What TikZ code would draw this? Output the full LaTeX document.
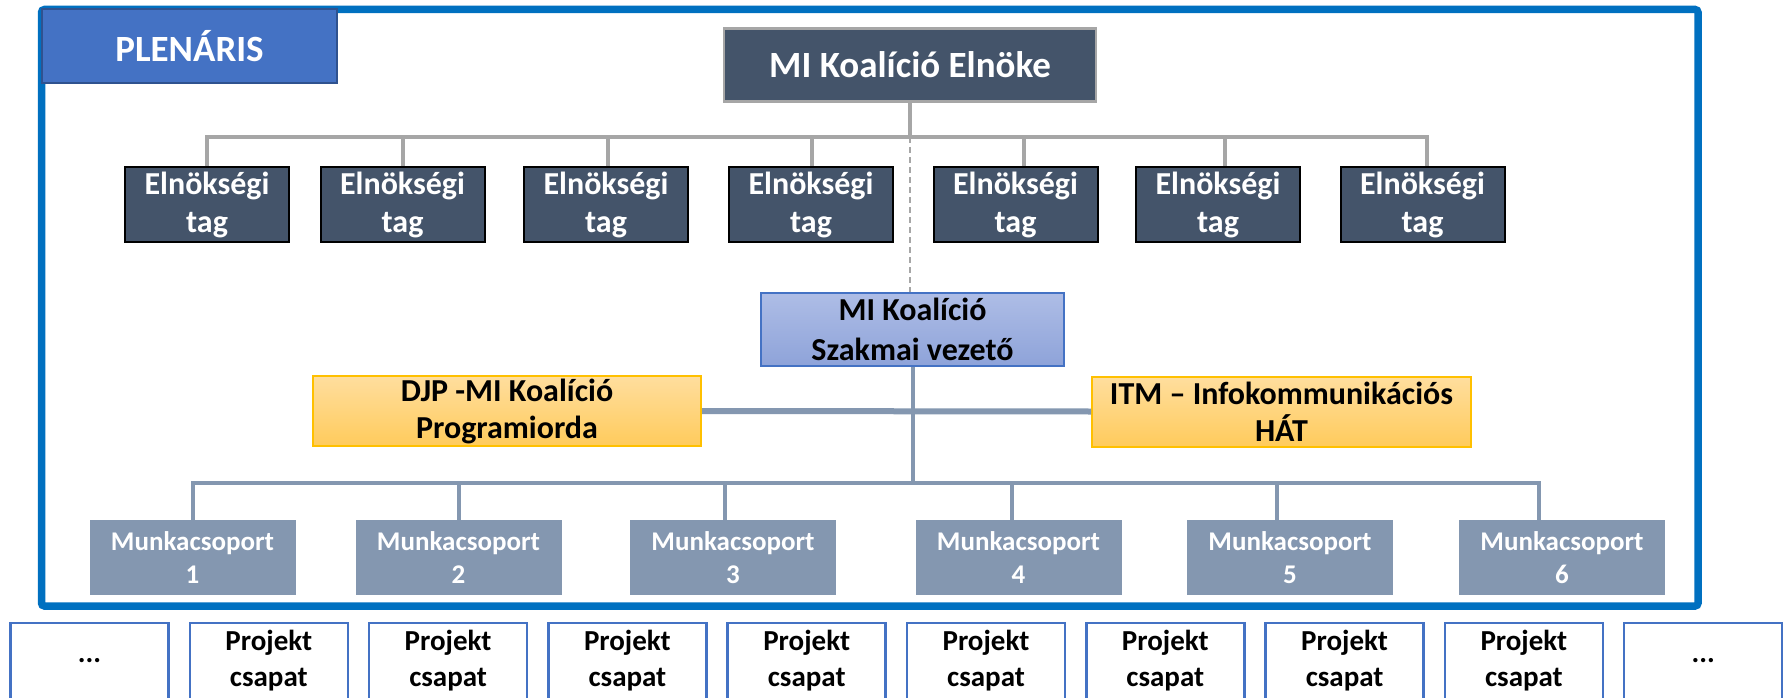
\documentclass[tikz,border=0pt]{standalone}
\usepackage{fontspec}
\setmainfont{Carlito}
\definecolor{frameblue}{HTML}{0070C0}
\definecolor{plenfill}{HTML}{4472C4}
\definecolor{plenedge}{HTML}{2F528F}
\definecolor{slate}{HTML}{44546A}
\definecolor{lgray}{HTML}{A6A6A6}
\definecolor{bgray}{HTML}{8497B0}
\definecolor{szaktop}{HTML}{AEBDE6}
\definecolor{szakbot}{HTML}{8EA3D9}
\definecolor{ortop}{HTML}{FFDE9E}
\definecolor{orbot}{HTML}{FFCB5C}
\definecolor{oredge}{HTML}{FFC000}
\begin{document}
\begin{tikzpicture}[x=1pt,y=-1pt,
  basebox/.style={rectangle, inner sep=0pt, align=center},
  plenbox/.style={basebox, fill=plenfill, draw=plenedge, line width=2pt,
    minimum width=295pt, minimum height=74pt, text=white,
    font=\fontsize{37}{44}\selectfont\bfseries},
  chairbox/.style={basebox, fill=slate, draw=lgray, line width=2.5pt,
    minimum width=372pt, minimum height=73pt, text=white,
    font=\fontsize{37}{44}\selectfont\bfseries},
  tagbox/.style={basebox, fill=slate, draw=black, line width=2pt,
    minimum width=164pt, minimum height=75pt, text=white,
    font=\fontsize{32}{38}\selectfont\bfseries},
  szakbox/.style={basebox, top color=szaktop, bottom color=szakbot, draw=plenfill, line width=2pt,
    minimum width=303pt, minimum height=73pt, text=black,
    font=\fontsize{32}{40}\selectfont\bfseries},
  orbox/.style={basebox, top color=ortop, bottom color=orbot, draw=oredge, line width=2pt,
    minimum height=70pt, text=black,
    font=\fontsize{32}{37}\selectfont\bfseries},
  mkbox/.style={basebox, fill=bgray, minimum width=206pt, minimum height=75pt, text=white,
    font=\fontsize{27}{33}\selectfont\bfseries},
  projbox/.style={basebox, fill=white, draw=plenfill, line width=2.5pt,
    minimum width=158pt, minimum height=76pt, text=black,
    font=\fontsize{29}{36}\selectfont\bfseries},
  graycon/.style={draw=lgray, line width=4pt},
  dashcon/.style={draw=lgray, line width=1.5pt, dash pattern=on 6pt off 4pt},
  bluecon/.style={draw=bgray, line width=4pt}
]
\useasboundingbox (0,0) rectangle (1785,698);
\fill[white] (0,0) rectangle (1785,698);

% frame
\draw[frameblue, line width=7.5pt, rounded corners=3pt] (41.5,9.5) rectangle (1698,606);

% top
\node[plenbox] (plen) at (189.5,46) {PLENÁRIS};
\node[chairbox] (chair) at (910,65) {MI Koalíció Elnöke};

\node[tagbox] (t1) at (207,204.5) {Elnökségi\\tag};
\node[tagbox] (t2) at (402.5,204.5) {Elnökségi\\tag};
\node[tagbox] (t3) at (606,204.5) {Elnökségi\\tag};
\node[tagbox] (t4) at (811,204.5) {Elnökségi\\tag};
\node[tagbox] (t5) at (1015.5,204.5) {Elnökségi\\tag};
\node[tagbox] (t6) at (1218,204.5) {Elnökségi\\tag};
\node[tagbox] (t7) at (1422.5,204.5) {Elnökségi\\tag};

\coordinate (bus) at (910,137);
\draw[graycon] (chair.south) -- (bus);
\draw[graycon] (t1.north) |- (bus) -| ([xshift=4.5pt]t7.north);
\draw[graycon] ([xshift=0.5pt]t2.north) -- ([xshift=0.5pt]t2.north |- bus);
\draw[graycon] ([xshift=2pt]t3.north) -- ([xshift=2pt]t3.north |- bus);
\draw[graycon] ([xshift=1pt]t4.north) -- ([xshift=1pt]t4.north |- bus);
\draw[graycon] ([xshift=8.5pt]t5.north) -- ([xshift=8.5pt]t5.north |- bus);
\draw[graycon] ([xshift=7pt]t6.north) -- ([xshift=7pt]t6.north |- bus);

% middle
\node[szakbox] (szak) at (912.5,329.5) {MI Koalíció\\Szakmai vezető};
\draw[dashcon] (bus) -- (bus |- szak.north);

\node[orbox, minimum width=388pt] (djp) at (507,411) {DJP -MI Koalíció\\Programiorda};
\node[orbox, minimum width=379pt] (itm) at (1281.5,411.5) {ITM – Infokommunikációs\\HÁT};

% working groups
\node[mkbox] (m1) at (192.5,557.5) {Munkacsoport\\1};
\node[mkbox] (m2) at (458.5,557.5) {Munkacsoport\\2};
\node[mkbox] (m3) at (733,557.5) {Munkacsoport\\3};
\node[mkbox] (m4) at (1018.5,557.5) {Munkacsoport\\4};
\node[mkbox] (m5) at (1290,557.5) {Munkacsoport\\5};
\node[mkbox] (m6) at (1562,557.5) {Munkacsoport\\6};

\coordinate (mbus) at (911,483);
\draw[bluecon] (szak.south) -- (szak.south |- mbus);
\draw[bluecon, line width=6pt] (djp.east) -- (itm.west);
\draw[bluecon] (m1.north) |- (mbus) -| ([xshift=-23pt]m6.north);
\draw[bluecon] (m2.north) -- (m2.north |- mbus);
\draw[bluecon] ([xshift=-8pt]m3.north) -- ([xshift=-8pt]m3.north |- mbus);
\draw[bluecon] ([xshift=-6.5pt]m4.north) -- ([xshift=-6.5pt]m4.north |- mbus);
\draw[bluecon] ([xshift=-13pt]m5.north) -- ([xshift=-13pt]m5.north |- mbus);

% project teams
\node[projbox] (p0) at (89.5,661) {...};
\node[projbox] (p1) at (268.8,661) {Projekt\\csapat};
\node[projbox] (p2) at (448.1,661) {Projekt\\csapat};
\node[projbox] (p3) at (627.4,661) {Projekt\\csapat};
\node[projbox] (p4) at (806.7,661) {Projekt\\csapat};
\node[projbox] (p5) at (986,661) {Projekt\\csapat};
\node[projbox] (p6) at (1165.3,661) {Projekt\\csapat};
\node[projbox] (p7) at (1344.6,661) {Projekt\\csapat};
\node[projbox] (p8) at (1523.9,661) {Projekt\\csapat};
\node[projbox] (p9) at (1703.2,661) {...};
\end{tikzpicture}
\end{document}
